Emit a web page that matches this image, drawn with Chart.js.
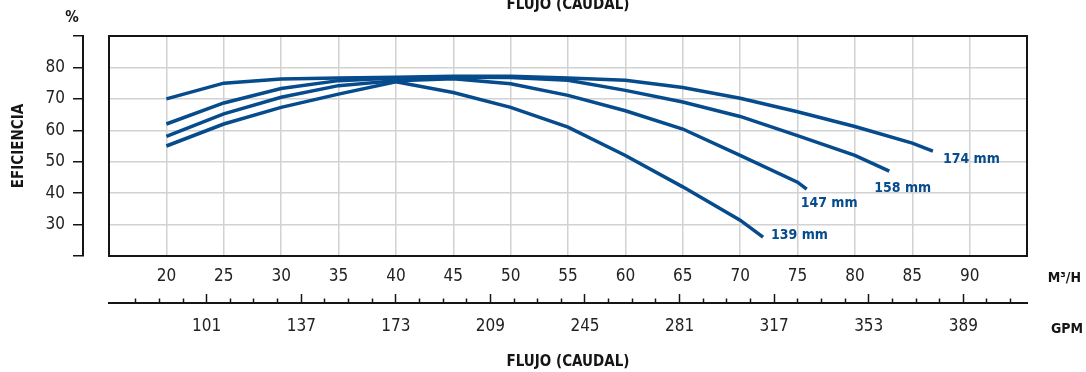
<!DOCTYPE html>
<html>
<head>
<meta charset="utf-8">
<script src="https://cdn.jsdelivr.net/npm/chart.js@4/dist/chart.umd.min.js"></script>
<style>
  body { margin: 0; background: #fff; }
  #wrap { width: 1086px; height: 372px; position: relative; }
</style>
</head>
<body>
<div id="wrap"><canvas id="effChart"></canvas></div>
<script>
// efficiency curves (flow in m3/h, efficiency in %)
const flow174 = [20, 25, 30, 35, 40, 45, 50, 55, 60, 65, 70, 75, 80, 85, 86.8]
const eff174 = [70, 75, 76.3, 76.6, 76.9, 77.2, 77.2, 76.6, 75.9, 73.6, 70.2, 65.9, 61.2, 55.9, 53.4]
const flow158 = [20, 25, 30, 35, 40, 45, 50, 55, 60, 65, 70, 75, 80, 83]
const eff158 = [62, 68.7, 73.3, 75.8, 76.6, 76.9, 76.8, 75.9, 72.7, 69, 64.4, 58.3, 52, 47]
const flow147 = [20, 25, 30, 35, 40, 45, 50, 55, 60, 65, 70, 75, 75.8]
const eff147 = [58.1, 65.2, 70.5, 74.2, 75.8, 76.4, 74.8, 71.1, 66.2, 60.4, 52, 43.5, 41.3]
const flow139 = [20, 25, 30, 35, 40, 45, 50, 55, 60, 65, 70, 72]
const eff139 = [55, 62, 67.3, 71.5, 75.4, 72, 67.3, 61, 52, 42, 31.4, 26]
const impellers = ['174 mm', '158 mm', '147 mm', '139 mm']

// axis ticks
const m3hTicks = [20, 25, 30, 35, 40, 45, 50, 55, 60, 65, 70, 75, 80, 85, 90]
const gpmTicks = [74, 83, 92, 101, 110, 119, 128, 137, 146, 155, 164, 173, 182, 191, 200, 209,
  218, 227, 236, 245, 254, 263, 272, 281, 290, 299, 308, 317, 326, 335, 344, 353, 362, 371, 380, 389, 398, 407]
const gpmLabels = [101, 137, 173, 209, 245, 281, 317, 353, 389]
const effTicks = [30, 40, 50, 60, 70, 80]

const BLUE = '#064b8c'
const FONT = "'Liberation Sans Narrow', 'DejaVu Sans Condensed', 'Liberation Sans', sans-serif"
Chart.defaults.font.family = FONT

const toPoints = (xs, ys) => xs.map((x, i) => ({ x: x, y: ys[i] }))

const series = [
  toPoints(flow174, eff174),
  toPoints(flow158, eff158),
  toPoints(flow147, eff147),
  toPoints(flow139, eff139)
]

// where each curve name sits relative to the curve's end point
const labelOffsets = [
  { dx: 10, dy: 8 },
  { dx: -15, dy: 17 },
  { dx: -6, dy: 14 },
  { dx: 8, dy: -2 }
]

const decorPlugin = {
  id: 'decor',
  afterDraw(chart) {
    const { ctx, chartArea: a } = chart
    ctx.save()
    // frame round the plot
    ctx.strokeStyle = '#151515'
    ctx.lineWidth = 2
    ctx.strokeRect(a.left, a.top, a.right - a.left, a.bottom - a.top)

    // curve names at the end of each line
    ctx.fillStyle = BLUE
    ctx.font = 'bold 14px ' + FONT
    ctx.textAlign = 'left'
    ctx.textBaseline = 'middle'
    impellers.forEach((name, i) => {
      const pts = chart.getDatasetMeta(i).data
      const last = pts[pts.length - 1]
      ctx.fillText(name, last.x + labelOffsets[i].dx, last.y + labelOffsets[i].dy)
    })

    // unit marks
    ctx.fillStyle = '#151515'
    ctx.font = 'bold 15px ' + FONT
    ctx.textAlign = 'center'
    ctx.fillText('%', 72, 18)
    ctx.font = 'bold 14px ' + FONT
    ctx.textAlign = 'right'
    ctx.fillText('M³/H', 1081, 278)
    ctx.fillText('GPM', 1083, 329)
    ctx.restore()
  }
}

new Chart(document.getElementById('effChart'), {
  type: 'line',
  data: {
    datasets: series.map((pts, i) => ({
      label: impellers[i],
      data: pts,
      borderColor: BLUE,
      borderWidth: 3.5,
      pointRadius: 0,
      tension: 0,
      fill: false,
      xAxisID: 'x',
      yAxisID: 'y'
    }))
  },
  options: {
    responsive: true,
    maintainAspectRatio: false,
    animation: false,
    layout: { padding: { top: 0, right: 59, bottom: 0, left: 0 } },
    plugins: {
      legend: { display: false },
      tooltip: { enabled: false },
      title: {
        display: true,
        fullSize: false,
        text: 'FLUJO (CAUDAL)',
        color: '#151515',
        font: { size: 15, weight: 'bold', lineHeight: 1 },
        padding: { top: -2, bottom: 23 }
      }
    },
    scales: {
      x: {
        type: 'linear',
        position: 'bottom',
        weight: 0,
        min: 15,
        max: 95,
        afterBuildTicks: scale => { scale.ticks = m3hTicks.map(v => ({ value: v })) },
        afterFit: scale => { scale.height = 47 },
        grid: { color: '#d2d2d2', lineWidth: 1.5, drawTicks: false },
        border: { display: false },
        ticks: {
          autoSkip: false,
          maxRotation: 0,
          padding: 10,
          color: '#222',
          font: { size: 17 }
        }
      },
      gpm: {
        type: 'linear',
        position: 'bottom',
        weight: 1,
        min: 63.81,
        max: 413.25,
        afterBuildTicks: scale => { scale.ticks = gpmTicks.map(v => ({ value: v })) },
        afterFit: scale => { scale.height = 69 },
        grid: {
          drawOnChartArea: false,
          drawTicks: true,
          tickLength: -9,
          color: '#151515',
          tickWidth: 1.5,
          tickBorderDash: ctx => gpmLabels.includes(ctx.tick.value) ? [] : [5.5, 30]
        },
        border: { display: true, color: '#151515', width: 2 },
        ticks: {
          autoSkip: false,
          maxRotation: 0,
          padding: 22,
          color: '#222',
          font: { size: 17 },
          callback: v => gpmLabels.includes(v) ? String(v) : ''
        },
        title: {
          display: true,
          text: 'FLUJO (CAUDAL)',
          color: '#151515',
          font: { size: 15, weight: 'bold' },
          padding: { top: 0, bottom: 1 }
        }
      },
      y: {
        type: 'linear',
        position: 'left',
        weight: 0,
        min: 20,
        max: 90,
        ticks: { display: false, stepSize: 10 },
        afterFit: scale => { scale.width = 26 },
        grid: { color: '#d2d2d2', lineWidth: 1.5, drawTicks: false },
        border: { display: false }
      },
      yTicks: {
        type: 'linear',
        position: 'left',
        weight: 1,
        min: 20,
        max: 90,
        afterFit: scale => { scale.width = 83 },
        grid: {
          drawOnChartArea: false,
          drawTicks: true,
          tickLength: 10,
          color: '#151515',
          lineWidth: 1.5
        },
        border: { display: true, color: '#151515', width: 2 },
        ticks: {
          stepSize: 10,
          padding: 8,
          color: '#222',
          font: { size: 17 },
          callback: v => effTicks.includes(v) ? String(v) : ''
        },
        title: {
          display: true,
          text: 'EFICIENCIA',
          color: '#151515',
          font: { size: 15, weight: 'bold' },
          padding: { top: 10, bottom: 0 }
        }
      }
    }
  },
  plugins: [decorPlugin]
})
</script>
</body>
</html>
